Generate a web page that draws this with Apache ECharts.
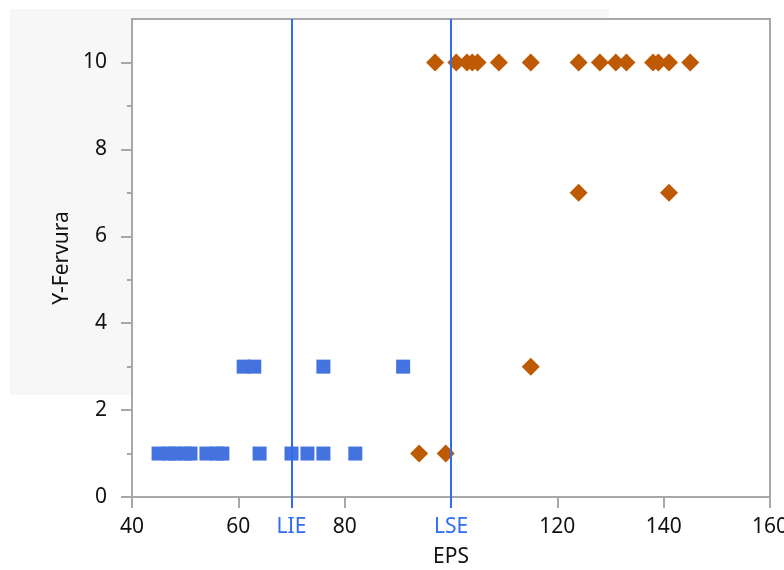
<!DOCTYPE html>
<html>
<head>
<meta charset="utf-8">
<script src="https://cdn.jsdelivr.net/npm/echarts@6/dist/echarts.min.js"></script>
<style>
  html, body { margin: 0; padding: 0; background: #fff; }
  #chart { width: 784px; height: 570px; }
</style>
</head>
<body>
<div id="chart"></div>
<script>
// EPS values of the low group (squares) at each Y-Fervura level
const lowAt1 = [45, 47, 48, 50, 51, 54, 56, 57, 64, 70, 73, 76, 82];
const lowAt3 = [61, 63, 76, 91];
// EPS values of the high group (diamonds)
const highAt1 = [94, 99];
const highAt3 = [115];
const highAt7 = [124, 141];
const highAt10 = [97, 101, 103, 104, 105, 109, 115, 124, 128, 131, 133, 138, 139, 141, 145];

// Specification limits on EPS
const limitValues = [70, 100];
const limitNames = ['LIE', 'LSE'];

// Axis ticks
const xTicks = [40, 60, 80, 120, 140, 160];
const yTicks = [0, 2, 4, 6, 8, 10];
const yMinorTicks = [1, 3, 5, 7, 9];

const pairs = (xs, y) => xs.map(x => [x, y]);

const FONT = 'Noto Sans';
const GREY = '#a8a8a8';
const LIMIT_BLUE = '#2f6bf5';

const chart = echarts.init(document.getElementById('chart'), null, { renderer: 'canvas' });

chart.setOption({
  animation: false,
  backgroundColor: '#fff',
  textStyle: { fontFamily: FONT },
  graphic: [{
    type: 'rect',
    z: -100,
    shape: { x: 10, y: 9, width: 599, height: 386 },
    style: { fill: '#f7f7f7' },
    silent: true
  }],
  grid: {
    left: 132, right: 14, top: 19, bottom: 73,
    outerBoundsMode: 'none',
    containLabel: false,
    show: true,
    backgroundColor: '#ffffff',
    borderColor: GREY,
    borderWidth: 2
  },
  xAxis: [{
    type: 'value',
    min: 40, max: 160,
    name: 'EPS',
    nameLocation: 'middle',
    nameGap: 50,
    nameTextStyle: { fontSize: 21, color: '#111', fontFamily: FONT },
    axisLine: { show: true, lineStyle: { color: GREY, width: 2 } },
    axisTick: { show: true, customValues: xTicks, length: 11, lineStyle: { color: GREY, width: 2 } },
    axisLabel: { customValues: xTicks, margin: 20, fontSize: 21, color: '#111', fontFamily: FONT },
    splitLine: { show: false }
  }, {
    type: 'value',
    min: 40, max: 160,
    position: 'bottom',
    axisLine: { show: false },
    axisTick: { show: true, customValues: limitValues, length: 11, lineStyle: { color: LIMIT_BLUE, width: 2 } },
    axisLabel: {
      customValues: limitValues,
      margin: 20, fontSize: 21, color: LIMIT_BLUE, fontFamily: FONT,
      formatter: v => limitNames[limitValues.indexOf(v)] || ''
    },
    splitLine: { show: false }
  }],
  yAxis: [{
    type: 'value',
    min: 0, max: 11,
    name: 'Y-Fervura',
    nameLocation: 'middle',
    nameGap: 58,
    nameTextStyle: { fontSize: 21, color: '#111', fontFamily: FONT },
    axisLine: { show: true, lineStyle: { color: GREY, width: 2 } },
    axisTick: { show: true, customValues: yTicks, length: 11, lineStyle: { color: GREY, width: 2 } },
    axisLabel: { customValues: yTicks, margin: 25, fontSize: 21, color: '#111', fontFamily: FONT },
    splitLine: { show: false }
  }, {
    type: 'value',
    min: 0, max: 11,
    position: 'left',
    axisLine: { show: false },
    axisTick: { show: true, customValues: yMinorTicks, length: 5, lineStyle: { color: GREY, width: 2 } },
    axisLabel: { show: false },
    splitLine: { show: false }
  }],
  series: [{
    type: 'scatter',
    name: 'low',
    symbol: 'rect',
    symbolSize: 14,
    itemStyle: { color: '#4472de', opacity: 1 },
    data: pairs(lowAt1, 1).concat(pairs(lowAt3, 3)),
    markLine: {
      silent: true,
      symbol: 'none',
      label: { show: false },
      lineStyle: { color: LIMIT_BLUE, width: 2, type: 'solid' },
      data: limitValues.map(v => ({ xAxis: v }))
    },
    z: 3
  }, {
    type: 'scatter',
    name: 'high',
    symbol: 'diamond',
    symbolSize: 18,
    itemStyle: { color: '#bf5a04', opacity: 1 },
    data: pairs(highAt1, 1).concat(pairs(highAt3, 3), pairs(highAt7, 7), pairs(highAt10, 10)),
    z: 3
  }]
});
</script>
</body>
</html>
